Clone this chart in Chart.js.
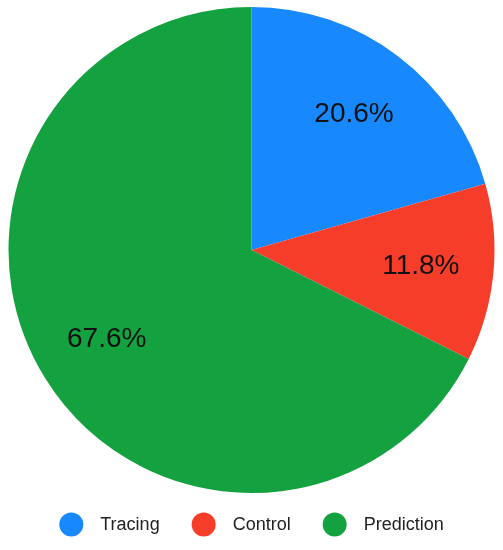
<!DOCTYPE html>
<html>
<head>
<meta charset="utf-8">
<script src="https://cdn.jsdelivr.net/npm/chart.js@4"></script>
<style>
  html, body { margin: 0; padding: 0; background: #fff; }
  #wrap { width: 503px; height: 550px; position: relative; }
</style>
</head>
<body>
<div id="wrap"><canvas id="c"></canvas></div>
<script>
const categories = ['Tracing', 'Control', 'Prediction'];
const values = [20.6, 11.8, 67.6];
const colors = ['#1888FF', '#F63D2A', '#14A240'];

const sliceLabels = {
  id: 'sliceLabels',
  afterDatasetsDraw(chart) {
    const ctx = chart.ctx;
    const meta = chart.getDatasetMeta(0);
    ctx.save();
    ctx.font = '28px "Liberation Sans", Arial, sans-serif';
    ctx.fillStyle = '#111';
    ctx.textAlign = 'center';
    ctx.textBaseline = 'middle';
    meta.data.forEach((arc, i) => {
      const p = arc.getProps(['x', 'y', 'startAngle', 'endAngle', 'outerRadius'], true);
      const mid = (p.startAngle + p.endAngle) / 2;
      const r = p.outerRadius * 0.70;
      ctx.fillText(values[i].toFixed(1) + '%', p.x + Math.cos(mid) * r, p.y + Math.sin(mid) * r);
    });
    ctx.restore();
  }
};

const customLegend = {
  id: 'customLegend',
  afterDraw(chart) {
    const ctx = chart.ctx;
    ctx.save();
    ctx.font = '18px "Liberation Sans", Arial, sans-serif';
    const rad = 12, gap = 17, itemGap = 32;
    const widths = categories.map(c => ctx.measureText(c).width);
    const total = widths.reduce((s, w) => s + 2 * rad + gap + w, 0) + itemGap * (categories.length - 1);
    let x = chart.width / 2 - total / 2;
    const y = 524.5;
    categories.forEach((c, i) => {
      ctx.beginPath();
      ctx.fillStyle = colors[i];
      ctx.arc(x + rad, y, rad, 0, Math.PI * 2);
      ctx.fill();
      ctx.fillStyle = '#222';
      ctx.textAlign = 'left';
      ctx.textBaseline = 'middle';
      ctx.fillText(c, x + 2 * rad + gap, y + 1);
      x += 2 * rad + gap + widths[i] + itemGap;
    });
    ctx.restore();
  }
};

new Chart(document.getElementById('c'), {
  type: 'pie',
  data: {
    labels: categories,
    datasets: [{
      data: values,
      backgroundColor: colors,
      borderWidth: 0
    }]
  },
  options: {
    responsive: true,
    maintainAspectRatio: false,
    animation: false,
    layout: { padding: { top: 7, bottom: 57, left: 0, right: 0 } },
    plugins: {
      legend: { display: false },
      tooltip: { enabled: false }
    }
  },
  plugins: [sliceLabels, customLegend]
});
</script>
</body>
</html>
